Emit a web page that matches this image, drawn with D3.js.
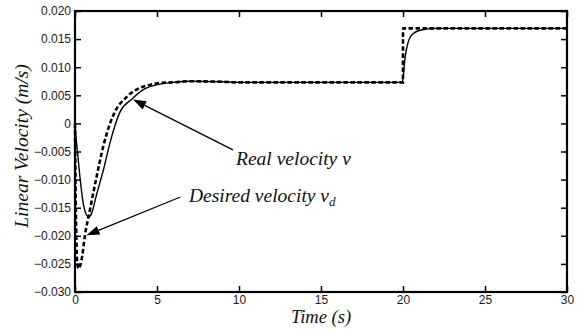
<!DOCTYPE html>
<html>
<head>
<meta charset="utf-8">
<script src="https://cdn.jsdelivr.net/npm/d3@7/dist/d3.min.js"></script>
<style>
  html, body { margin: 0; padding: 0; background: #fff; }
  svg { display: block; }
  .tick-label { font-family: "Liberation Sans", Arial, sans-serif; font-size: 12px; fill: #1a1a1a; }
  .axis-title, .note { font-family: "Liberation Serif", "Times New Roman", serif; font-style: italic; font-size: 19.5px; fill: #111; }
</style>
</head>
<body>
<svg id="chart" width="577" height="333"></svg>
<script>
// Time samples (s) and velocities (m/s) for the real response
const realTime = [0, 0.05, 0.14, 0.3, 0.5, 0.7, 0.85, 1.0, 1.32, 1.74, 2.13, 2.74, 3.46, 4.17, 5.18, 6.0, 7.0, 9.0, 10, 12, 15, 19.95,
                  20.02, 20.12, 20.32, 20.63, 21.24, 22, 25, 30];
const realVel  = [0, -0.0020, -0.0047, -0.0095, -0.0142, -0.0163, -0.0167, -0.0161, -0.0126, -0.0082, -0.0035, 0.0020, 0.0043, 0.0060, 0.0070, 0.0073, 0.0075, 0.0074, 0.0073, 0.0073, 0.0073, 0.0073,
                  0.0085, 0.0116, 0.0145, 0.0160, 0.0167, 0.0169, 0.0169, 0.0169];

// Time samples (s) and velocities (m/s) for the desired reference
const desiredTime = [0, 0.03, 0.08, 0.14, 0.22, 0.32, 0.45, 0.61, 0.91, 1.28, 1.73, 2.1, 2.44, 3.15, 3.86, 4.5, 5.2, 6.0, 7.0, 9.0, 10, 12, 15, 19.999,
                     20.001, 22, 25, 30];
const desiredVel  = [0, -0.010, -0.020, -0.0248, -0.0258, -0.0253, -0.0234, -0.0199, -0.0154, -0.0100, -0.0040, -0.0003, 0.0021, 0.0047, 0.0062, 0.0068, 0.0072, 0.0073, 0.0075, 0.0074, 0.0073, 0.0073, 0.0073, 0.0073,
                     0.0169, 0.0169, 0.0169, 0.0169];

// Axis ticks
const xTicks = [0, 5, 10, 15, 20, 25, 30];
const yTicks = [0.020, 0.015, 0.010, 0.005, 0, -0.005, -0.010, -0.015, -0.020, -0.025, -0.030];

// Callouts: arrow tip, arrow tail and label anchor, in data units
const noteText  = ["Real velocity v", "Desired velocity v"];
const noteSub   = ["", "d"];
const noteTip   = [[3.54, 0.00425], [0.70, -0.0199]];
const noteTail  = [[9.63, -0.0047], [6.43, -0.0131]];
const noteLabel = [[9.82, -0.0074], [6.95, -0.0139]];

const svg = d3.select("#chart");
const margin = { left: 75, top: 11, right: 10, bottom: 41 };
const W = 577 - margin.left - margin.right;
const H = 333 - margin.top - margin.bottom;

const x = d3.scaleLinear().domain([0, 30]).range([0, W]);
const y = d3.scaleLinear().domain([-0.030, 0.020]).range([H, 0]);

const g = svg.append("g").attr("transform", `translate(${margin.left},${margin.top})`);

const fmtY = v => v === 0 ? "0" : d3.format(".3f")(v);
const tickLen = 6;

// Axes with inward ticks on all four sides
const axBottom = d3.axisBottom(x).tickValues(xTicks).tickSizeInner(-tickLen).tickSizeOuter(0).tickPadding(3);
const axTop = d3.axisTop(x).tickValues(xTicks).tickSizeInner(-tickLen).tickSizeOuter(0).tickFormat("");
const axLeft = d3.axisLeft(y).tickValues(yTicks).tickSizeInner(-tickLen).tickSizeOuter(0).tickPadding(4).tickFormat(fmtY);
const axRight = d3.axisRight(y).tickValues(yTicks).tickSizeInner(-tickLen).tickSizeOuter(0).tickFormat("");

function styleAxis(sel) {
  sel.select(".domain").remove();
  sel.selectAll(".tick line").attr("stroke", "#000").attr("stroke-width", 1.5);
  sel.selectAll(".tick text").attr("class", "tick-label").attr("font-family", null).attr("font-size", null);
}
g.append("g").attr("transform", `translate(0,${H})`).call(axBottom).call(styleAxis);
g.append("g").call(axTop).call(styleAxis);
g.append("g").call(axLeft).call(styleAxis);
g.append("g").attr("transform", `translate(${W},0)`).call(axRight).call(styleAxis);

// Curves
const line = d3.line().x(d => x(d[0])).y(d => y(d[1])).curve(d3.curveMonotoneX);
const realPts = realTime.map((t, i) => [t, realVel[i]]);
const desiredPts = desiredTime.map((t, i) => [t, desiredVel[i]]);

g.append("path").datum(realPts).attr("d", line)
  .attr("fill", "none").attr("stroke", "#000").attr("stroke-width", 1.4);
g.append("path").datum(desiredPts).attr("d", line)
  .attr("fill", "none").attr("stroke", "#000").attr("stroke-width", 2.6)
  .attr("stroke-dasharray", "4.5,2.5");

// Frame
g.append("rect").attr("x", 0).attr("y", 0).attr("width", W).attr("height", H)
  .attr("fill", "none").attr("stroke", "#000").attr("stroke-width", 2.2);

// Callout arrows and labels
noteText.forEach((txt, i) => {
  const tx = x(noteTip[i][0]), ty = y(noteTip[i][1]);
  const sx = x(noteTail[i][0]), sy = y(noteTail[i][1]);
  const ang = Math.atan2(ty - sy, tx - sx);
  const headLen = 13, headHalf = 4.5;
  const bx = tx - headLen * Math.cos(ang), by = ty - headLen * Math.sin(ang);
  g.append("line").attr("x1", sx).attr("y1", sy).attr("x2", bx).attr("y2", by)
    .attr("stroke", "#000").attr("stroke-width", 1.3);
  const px = -Math.sin(ang) * headHalf, py = Math.cos(ang) * headHalf;
  g.append("path")
    .attr("d", `M${tx},${ty}L${bx + px},${by + py}L${bx - px},${by - py}Z`)
    .attr("fill", "#000");
  const t = g.append("text").attr("class", "note")
    .attr("x", x(noteLabel[i][0])).attr("y", y(noteLabel[i][1])).text(txt);
  if (noteSub[i]) {
    t.append("tspan").attr("dy", 4).attr("font-size", 13).text(noteSub[i]);
  }
});

// Axis titles
svg.append("text").attr("class", "axis-title")
  .attr("x", margin.left + W / 2).attr("y", 323).attr("text-anchor", "middle")
  .style("font-size", "18.5px")
  .text("Time (s)");
svg.append("text").attr("class", "axis-title")
  .attr("transform", `translate(28,${margin.top + 135}) rotate(-90)`)
  .attr("text-anchor", "middle")
  .text("Linear Velocity (m/s)");
</script>
</body>
</html>
